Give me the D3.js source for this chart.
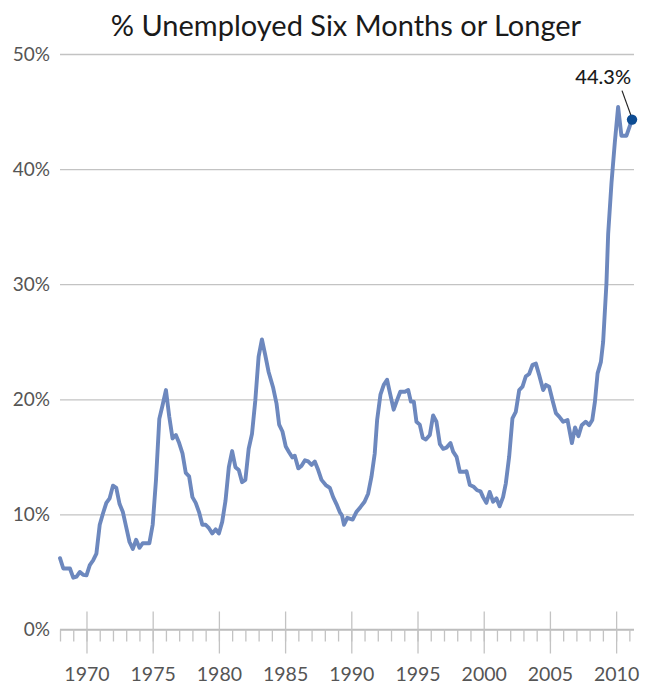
<!DOCTYPE html>
<html>
<head>
<meta charset="utf-8">
<script src="https://cdn.jsdelivr.net/npm/d3@7"></script>
<style>
  body { margin: 0; background: #fff; }
  svg { display: block; font-family: "Lato", "Open Sans", sans-serif; }
</style>
</head>
<body>
<svg id="chart" width="647" height="685"></svg>
<script>
// long-term unemployment share (decimal years)
var years = [
  1968.00, 1968.25, 1968.75, 1969.00, 1969.25, 1969.50, 1969.75, 1970.00, 1970.25, 1970.50,
  1970.75, 1971.00, 1971.25, 1971.50, 1971.75, 1972.00, 1972.25, 1972.50, 1972.75, 1973.00,
  1973.25, 1973.50, 1973.75, 1974.00, 1974.25, 1974.75, 1975.00, 1975.25, 1975.50, 1975.75,
  1976.00, 1976.25, 1976.50, 1976.75, 1977.00, 1977.25, 1977.50, 1977.75, 1978.00, 1978.25,
  1978.50, 1978.75, 1979.00, 1979.25, 1979.50, 1979.75, 1980.00, 1980.25, 1980.50, 1980.75,
  1981.00, 1981.25, 1981.50, 1981.75, 1982.00, 1982.25, 1982.50, 1982.75, 1983.00, 1983.25,
  1983.50, 1983.75, 1984.10, 1984.35, 1984.55, 1984.80, 1985.05, 1985.30, 1985.55, 1985.73,
  1986.00, 1986.23, 1986.50, 1986.74, 1987.00, 1987.24, 1987.50, 1987.75, 1988.07, 1988.38,
  1988.63, 1988.88, 1989.13, 1989.30, 1989.45, 1989.70, 1990.10, 1990.38, 1990.70, 1991.00,
  1991.27, 1991.52, 1991.77, 1991.95, 1992.20, 1992.45, 1992.70, 1992.90, 1993.20, 1993.45,
  1993.70, 1994.05, 1994.30, 1994.50, 1994.72, 1994.92, 1995.17, 1995.40, 1995.63, 1995.93,
  1996.18, 1996.43, 1996.69, 1996.94, 1997.19, 1997.49, 1997.69, 1997.95, 1998.20, 1998.50,
  1998.70, 1998.95, 1999.25, 1999.50, 1999.76, 1999.95, 2000.20, 2000.45, 2000.71, 2000.96,
  2001.20, 2001.46, 2001.67, 2001.92, 2002.17, 2002.42, 2002.68, 2002.93, 2003.18, 2003.43,
  2003.69, 2003.94, 2004.19, 2004.49, 2004.70, 2004.94, 2005.20, 2005.45, 2005.70, 2006.00,
  2006.33, 2006.66, 2006.90, 2007.15, 2007.40, 2007.70, 2007.96, 2008.20, 2008.40, 2008.60,
  2008.85, 2009.02, 2009.27, 2009.40, 2009.65, 2009.90, 2010.15, 2010.40, 2010.78, 2011.20
];
var values = [
  6.2, 5.3, 5.3, 4.5, 4.6, 5.0, 4.75, 4.7, 5.6, 6.0,
  6.6, 9.1, 10.1, 11.0, 11.4, 12.5, 12.3, 10.9, 10.2, 8.9,
  7.6, 7.0, 7.8, 7.1, 7.5, 7.5, 9.1, 13.0, 18.3, 19.5,
  20.8, 18.5, 16.6, 16.9, 16.2, 15.3, 13.6, 13.3, 11.5, 11.0,
  10.2, 9.1, 9.1, 8.8, 8.35, 8.7, 8.35, 9.35, 11.2, 14.1,
  15.5, 14.1, 13.85, 12.8, 13.0, 15.7, 17.0, 19.9, 23.7, 25.2,
  23.85, 22.4, 21.0, 19.65, 17.8, 17.2, 15.9, 15.4, 14.95, 15.1,
  14.0, 14.2, 14.7, 14.6, 14.3, 14.6, 13.85, 13.0, 12.55, 12.3,
  11.5, 10.9, 10.2, 9.9, 9.1, 9.7, 9.55, 10.2, 10.65, 11.1,
  11.8, 13.25, 15.3, 18.2, 20.4, 21.25, 21.7, 20.65, 19.1, 19.9,
  20.65, 20.65, 20.8, 19.8, 19.8, 18.05, 17.8, 16.65, 16.5, 16.9,
  18.6, 18.05, 16.1, 15.7, 15.8, 16.2, 15.45, 15.0, 13.7, 13.7,
  13.75, 12.55, 12.4, 12.1, 12.0, 11.5, 11.0, 11.95, 11.1, 11.4,
  10.7, 11.5, 12.7, 15.0, 18.35, 18.9, 20.8, 21.1, 22.0, 22.2,
  23.0, 23.1, 22.1, 20.8, 21.25, 21.1, 19.9, 18.8, 18.5, 18.05,
  18.2, 16.2, 17.55, 16.8, 17.75, 18.05, 17.75, 18.2, 19.8, 22.25,
  23.25, 25.0, 30.1, 34.4, 38.8, 42.3, 45.4, 42.9, 42.9, 44.3
];
var yTicks = [0, 10, 20, 30, 40, 50];
var majorYears = [1970, 1975, 1980, 1985, 1990, 1995, 2000, 2005, 2010];
var minorYears = d3.range(1968, 2012);
var title = "% Unemployed Six Months or Longer";
var lastLabel = "44.3%";

var data = years.map((d, i) => ({ year: d, value: values[i] }));

var dimensions = { width: 647, height: 685, left: 60, right: 634, top: 54, bottom: 629.5 };

var svg = d3.select("#chart");

var xScale = d3.scaleLinear()
    .domain([1968, 2011.35])
    .range([dimensions.left, dimensions.right]);

var yScale = d3.scaleLinear()
    .domain([0, 50])
    .range([dimensions.bottom, dimensions.top]);

// gridlines + y labels
var yAxis = svg.append("g")
    .attr("transform", `translate(${dimensions.left},0)`)
    .call(d3.axisLeft(yScale)
        .tickValues(yTicks)
        .tickFormat(d => d + "%")
        .tickSizeInner(-(dimensions.right - dimensions.left))
        .tickSizeOuter(0)
        .tickPadding(10));
yAxis.select(".domain").remove();
yAxis.selectAll("line").attr("stroke", "#c3c3c3").attr("stroke-width", 1.3);
yAxis.selectAll("text")
    .attr("fill", "#555")
    .style("font-size", "19px")
    .style("font-family", "Lato, sans-serif");

// minor year ticks + axis line
var minorAxis = svg.append("g")
    .attr("transform", `translate(0,${dimensions.bottom})`)
    .call(d3.axisBottom(xScale)
        .tickValues(minorYears)
        .tickFormat("")
        .tickSizeInner(12)
        .tickSizeOuter(0));
minorAxis.select(".domain").attr("stroke", "#bdbdbd").attr("stroke-width", 1.3)
    .attr("d", `M${dimensions.left},0H${dimensions.right}`);
minorAxis.selectAll("line").attr("stroke", "#c3c3c3").attr("stroke-width", 1.3);

// major ticks with labels
var majorAxis = svg.append("g")
    .attr("transform", `translate(0,${dimensions.bottom})`)
    .call(d3.axisBottom(xScale)
        .tickValues(majorYears)
        .tickFormat(d3.format("d"))
        .tickSizeInner(24)
        .tickSizeOuter(0)
        .tickPadding(14));
majorAxis.select(".domain").remove();
majorAxis.selectAll("line").attr("y1", -18).attr("stroke", "#c3c3c3").attr("stroke-width", 1.3);
majorAxis.selectAll("text")
    .attr("fill", "#555")
    .style("font-size", "19.5px")
    .style("font-family", "Lato, sans-serif");

// title
svg.append("text")
    .attr("x", (dimensions.left + dimensions.right) / 2 - 1)
    .attr("y", 36)
    .attr("text-anchor", "middle")
    .attr("fill", "#1a1a1a")
    .style("font-size", "29px")
    .text(title);

// the series
var line = d3.line()
    .x(d => xScale(d.year))
    .y(d => yScale(d.value));

svg.append("path")
    .datum(data)
    .attr("fill", "none")
    .attr("stroke", "#6d88be")
    .attr("stroke-width", 3.9)
    .attr("stroke-linejoin", "round")
    .attr("stroke-linecap", "round")
    .attr("d", line);

// last point + callout
var last = data[data.length - 1];
var lx = xScale(last.year), ly = yScale(last.value);

svg.append("line")
    .attr("x1", lx - 10)
    .attr("y1", ly - 29)
    .attr("x2", lx - 1)
    .attr("y2", ly - 4)
    .attr("stroke", "#222")
    .attr("stroke-width", 1.2);

svg.append("circle")
    .attr("cx", lx)
    .attr("cy", ly)
    .attr("r", 5.2)
    .attr("fill", "#0d4c93");

svg.append("text")
    .attr("x", lx - 1)
    .attr("y", ly - 36)
    .attr("text-anchor", "end")
    .attr("fill", "#1a1a1a")
    .style("font-size", "20px")
    .style("font-weight", "500")
    .text(lastLabel);
</script>
</body>
</html>
